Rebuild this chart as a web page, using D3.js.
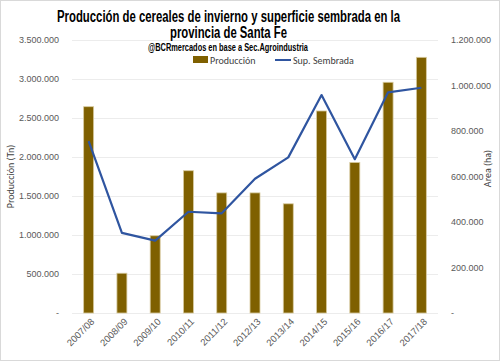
<!DOCTYPE html>
<html>
<head>
<meta charset="utf-8">
<title>cereales-santa-fe</title>
<script src="https://cdn.jsdelivr.net/npm/d3@7"></script>
<style>
  body { margin: 0; background: #fff; }
  svg { font-family: Carlito, Calibri, "Liberation Sans", Arial, sans-serif; }
  .axis path, .axis line { display: none; }
  .axis text { font-size: 9px; fill: #595959; }
  .grid line { stroke: #ececec; stroke-width: 1px; shape-rendering: crispEdges; }
  .title { font-family: "Liberation Sans", Arial, sans-serif; font-weight: bold; font-size: 16px; fill: #000; }
  .subtitle { font-family: "Liberation Sans", Arial, sans-serif; font-weight: bold; font-size: 11px; fill: #000; }
  .legend text, .axis-title { font-size: 10px; fill: #404040; }
</style>
</head>
<body>
<svg width="500" height="362"></svg>
<script>
var campaigns = ["2007/08", "2008/09", "2009/10", "2010/11", "2011/12", "2012/13",
                 "2013/14", "2014/15", "2015/16", "2016/17", "2017/18"];
// producción (Tn)
var produccion = [2645000, 510000, 990000, 1824000, 1540000, 1540000,
                  1400000, 2590000, 1930000, 2958000, 3278000];
// superficie sembrada (ha)
var superficie = [756000, 352000, 318000, 445000, 438000, 590000,
                  684000, 958000, 676000, 970000, 990000];
var leftTicks = [0, 500000, 1000000, 1500000, 2000000, 2500000, 3000000, 3500000];
var rightTicks = [0, 200000, 400000, 600000, 800000, 1000000, 1200000];

var svg = d3.select("svg"),
    margin = {top: 40, right: 62, bottom: 49, left: 72},
    width = +svg.attr("width") - margin.left - margin.right,
    height = +svg.attr("height") - margin.top - margin.bottom;

// outer border
svg.append("rect")
  .attr("x", 0.5).attr("y", 0.5)
  .attr("width", 499).attr("height", 360)
  .attr("fill", "#fff")
  .attr("stroke", "#d9d9d9");

var g = svg.append("g").attr("transform", "translate(" + margin.left + "," + margin.top + ")");

var fmt = function(v) {
  if (v === 0) return "-";
  return d3.format(",")(v).replace(/,/g, ".");
};

var x = d3.scaleBand().domain(campaigns).range([0, width]).paddingInner(0.7).paddingOuter(0.35);
var yL = d3.scaleLinear().domain([0, 3500000]).range([height, 0]);
var yR = d3.scaleLinear().domain([0, 1200000]).range([height, 0]);

// gridlines
g.append("g").attr("class", "grid")
  .selectAll("line").data(leftTicks).enter().append("line")
  .attr("x1", 0).attr("x2", width)
  .attr("y1", function(d) { return Math.round(yL(d)) + 0.5; })
  .attr("y2", function(d) { return Math.round(yL(d)) + 0.5; });

// left axis
g.append("g").attr("class", "axis")
  .attr("transform", "translate(-10,0)")
  .call(d3.axisLeft(yL).tickValues(leftTicks).tickFormat(fmt).tickSize(0));

// right axis
g.append("g").attr("class", "axis")
  .attr("transform", "translate(" + (width + 10) + ",0)")
  .call(d3.axisRight(yR).tickValues(rightTicks).tickFormat(fmt).tickSize(0));

// x axis
g.append("g").attr("class", "axis")
  .attr("transform", "translate(0," + height + ")")
  .call(d3.axisBottom(x).tickSize(0))
  .selectAll("text")
  .attr("text-anchor", "end")
  .attr("transform", "translate(4,7) rotate(-45)")
  .attr("dy", "0.35em")
  .attr("y", 0)
  .attr("x", 0)
  .style("font-size", "9.5px");

// bars
g.append("g").selectAll("rect").data(campaigns).enter().append("rect")
  .attr("x", function(d) { return x(d); })
  .attr("y", function(d, i) { return yL(produccion[i]); })
  .attr("width", x.bandwidth())
  .attr("height", function(d, i) { return height - yL(produccion[i]); })
  .attr("fill", "#7f6000")
  .attr("stroke", "#d8cba0")
  .attr("stroke-width", 0.8);

// line
var line = d3.line()
  .x(function(d, i) { return x(campaigns[i]) + x.bandwidth() / 2; })
  .y(function(d) { return yR(d); });

g.append("path")
  .datum(superficie)
  .attr("fill", "none")
  .attr("stroke", "#2f55a0")
  .attr("stroke-width", 2.2)
  .attr("stroke-linejoin", "round")
  .attr("d", line);

// titles (condensed via textLength)
svg.append("text").attr("class", "title")
  .attr("x", 57).attr("y", 22)
  .attr("textLength", 343).attr("lengthAdjust", "spacingAndGlyphs")
  .text("Producción de cereales de invierno y superficie sembrada en la");
svg.append("text").attr("class", "title")
  .attr("x", 170).attr("y", 38)
  .attr("textLength", 117).attr("lengthAdjust", "spacingAndGlyphs")
  .text("provincia de Santa Fe");
svg.append("text").attr("class", "subtitle")
  .attr("x", 148).attr("y", 51)
  .attr("textLength", 160).attr("lengthAdjust", "spacingAndGlyphs")
  .text("@BCRmercados en base a Sec.Agroindustria");

// legend
var legend = svg.append("g").attr("class", "legend");
legend.append("rect")
  .attr("x", 193).attr("y", 56).attr("width", 15).attr("height", 7)
  .attr("fill", "#7f6000");
legend.append("text").attr("x", 210).attr("y", 63.5).text("Producción");
legend.append("line")
  .attr("x1", 275).attr("x2", 291).attr("y1", 60).attr("y2", 60)
  .attr("stroke", "#2f55a0").attr("stroke-width", 2);
legend.append("text").attr("x", 293).attr("y", 63.5).text("Sup. Sembrada");

// axis titles
svg.append("text").attr("class", "axis-title")
  .attr("transform", "translate(14," + (margin.top + height / 2) + ") rotate(-90)")
  .attr("text-anchor", "middle")
  .text("Producción (Tn)");
svg.append("text").attr("class", "axis-title")
  .attr("transform", "translate(491," + (margin.top + height / 2 - 8) + ") rotate(-90)")
  .attr("text-anchor", "middle")
  .text("Area (ha)");
</script>
</body>
</html>
